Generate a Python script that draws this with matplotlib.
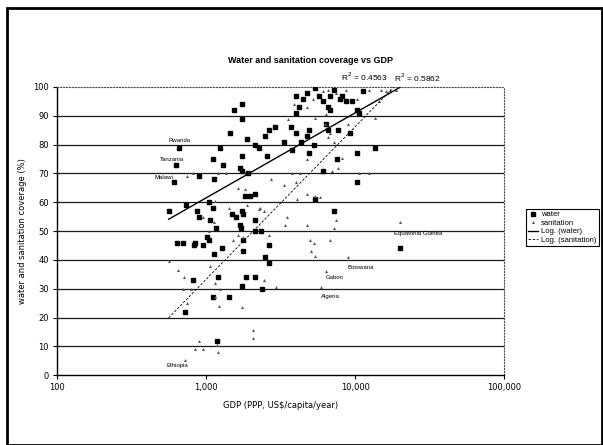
import numpy as np
import matplotlib
matplotlib.use('Agg')
import matplotlib.pyplot as plt
from matplotlib.patches import Rectangle
from matplotlib.ticker import FixedLocator, NullLocator

# water coverage (%) vs GDP (PPP, US$/capita/year)
water_gdp = [1538, 1730, 1752, 1448, 1893, 1247, 659, 1106, 1300, 628, 898, 1127, 610,
             1730, 1679, 1730, 1927, 2133, 2264, 2582, 2475, 2630, 2924, 3715, 3990,
             3336, 3758, 4365, 3990, 4036, 4498, 4236, 4775, 4920, 5312, 4920, 5383,
             5702, 6053, 6622, 6823, 6353, 6622, 7691, 7244, 8166, 8670, 9485, 10370,
             10670, 11320, 13550, 6823, 7925, 4775,
             561, 729, 872, 898, 1042, 1106, 1061, 1175, 1012, 1042, 846, 836, 635, 699,
             953, 1127, 1285, 1492, 1583, 1730, 1783, 1837, 1986, 2133, 1679, 1710,
             2133, 2133, 2333, 2630, 2475, 2630, 1762, 1762, 1211, 1430, 1106, 822, 720,
             1858, 2133, 2361, 1189, 1752, 5383, 7244, 20000, 10370, 10370, 9311, 6053,
             7603]
water_cov = [92, 94, 89, 84, 82, 79, 79, 75, 73, 73, 69, 68, 67,
             76, 72, 71, 70, 80, 79, 76, 83, 85, 86, 86, 84,
             81, 78, 81, 91, 97, 96, 93, 83, 85, 80, 77, 99.5,
             97, 95, 93, 92, 87, 85, 85, 99, 97, 95, 95, 92,
             91, 98.6, 79, 97, 96, 98,
             57, 59, 57, 55, 60, 58, 54, 51, 48, 47, 46, 45, 46, 46,
             45, 42, 44, 56, 55, 57, 56, 62, 62, 63, 52, 51,
             54, 50, 50, 45, 41, 39, 47, 43, 34, 27, 27, 33, 22,
             34, 34, 30, 12, 31, 61, 57, 44, 77, 67, 84, 71,
             75]

# sanitation coverage (%)
san_gdp = [561, 647, 708, 699, 797, 751, 1061, 1140, 1225, 1247, 1140, 846, 953, 1211,
           720, 2070, 2070, 1730, 1783, 1518, 1630, 1430, 1893, 1837, 2305, 2447, 2630,
           2964, 2710, 3336, 3758, 3990, 4285, 4775, 3499, 3373, 4061, 4775, 5383, 5781,
           4775, 5003, 5312, 5070, 5383, 6823, 7031, 7691, 8166, 10670, 7464, 7244, 8933,
           6353, 5875, 20000, 12390, 6427, 6823, 6622, 7244, 5383, 6237, 8933, 6622,
           7464, 8670, 10370, 12390, 13550, 14380, 16210, 17210, 18830, 14820, 4775,
           3873, 5222, 6053, 3540, 1630, 1365, 1211, 822, 751, 1140, 953, 1042, 1127,
           2264, 2447, 898, 1189]
san_cov = [39.5, 36.5, 34, 30, 30, 25, 38, 32, 24, 30, 27, 9, 9, 8,
           5.4, 15.6, 13, 23.6, 48, 47, 48.5, 58, 59, 64.6, 58, 57, 48.5,
           30.5, 68, 66, 70, 67, 70, 75, 55, 52, 61, 63, 62, 61.7,
           52, 47, 46, 43, 41.5, 47, 71, 72, 75.5, 70, 54, 51, 41,
           36, 30.5, 53, 70, 90.5, 84, 82.5, 81, 89.4, 87, 87, 99,
           98, 99, 96, 99, 89.4, 95, 98.6, 99, 99, 99, 93,
           94, 96, 98.6, 89, 65, 70, 70, 70, 69, 60.5, 55, 50, 53,
           57.7, 33, 12, 10.4]

# logarithmic trendlines y = a*log10(x) + b
water_fit = (29.5, -27.0)
san_fit = (53.0, -125.8)
r2_labels = ['R$^2$ = 0.4563', 'R$^2$ = 0.5862']

countries = ['Rwanda', 'Tanzania', 'Malawi', 'Ethiopia', 'Equatorial Guinea',
             'Botswana', 'Gabon', 'Algeria']
country_x = [557, 494, 452, 541, 18200, 8900, 6330, 5890]
country_y = [81.5, 75, 68.6, 3.5, 49.3, 37.5, 34, 27.4]

fig = plt.figure(figsize=(6.03, 4.45), dpi=100)
ax = fig.add_axes([0.0945, 0.157, 0.7415, 0.6475])
plt.rcParams['font.family'] = ['Liberation Sans', 'DejaVu Sans']

ax.set_xscale('log')
ax.set_xlim(100, 100000)
ax.set_ylim(0, 100)

for yv in range(10, 100, 10):
    ax.axhline(yv, color='0.1', lw=0.9, zorder=1)

ax.plot(water_gdp, water_cov, 's', color='black', ms=2.6, zorder=3, label='water')
ax.plot(san_gdp, san_cov, '^', color='0.35', ms=2.2, mew=0, zorder=3, label='sanitation')

xw = np.logspace(np.log10(min(water_gdp)), np.log10(max(water_gdp)), 50)
ax.plot(xw, water_fit[0] * np.log10(xw) + water_fit[1], '-', color='black', lw=1.0,
        zorder=4, label='Log. (water)')
xs = np.logspace(np.log10(min(san_gdp)), np.log10(max(san_gdp)), 50)
ax.plot(xs, san_fit[0] * np.log10(xs) + san_fit[1], '--', color='black', lw=0.6,
        dashes=(3, 2), zorder=4, label='Log. (sanitation)')

ax.text(8000, 101.5, r2_labels[0], fontsize=6, va='bottom', ha='left', clip_on=False)
ax.text(18200, 101, r2_labels[1], fontsize=6, va='bottom', ha='left', clip_on=False)

for name, cx, cy in zip(countries, country_x, country_y):
    ax.text(cx, cy, name, fontsize=4.3, ha='left', va='center')

ax.xaxis.set_major_locator(FixedLocator([100, 1000, 10000, 100000]))
ax.xaxis.set_minor_locator(NullLocator())
ax.set_xticklabels(['100', '1,000', '10,000', '100,000'])
ax.set_yticks(range(0, 101, 10))
ax.tick_params(labelsize=6, length=3, width=0.8, direction='out', pad=3)

for side in ['top', 'right']:
    ax.spines[side].set_linestyle(':')
    ax.spines[side].set_color('0.3')
    ax.spines[side].set_linewidth(0.8)
ax.spines['left'].set_linewidth(1.0)
ax.spines['bottom'].set_linewidth(1.0)

ax.set_xlabel('GDP (PPP, US$/capita/year)', fontsize=6, labelpad=6)
ax.set_ylabel('water and sanitation coverage (%)', fontsize=6, labelpad=4)
fig.text(0.515, 0.865, 'Water and sanitation coverage vs GDP', fontsize=6.5,
         fontweight='bold', ha='center', va='center')

leg = ax.legend(loc='upper left', bbox_to_anchor=(0.872, 0.531),
                bbox_transform=fig.transFigure, fontsize=5.5, handlelength=1.3,
                borderpad=0.3, labelspacing=0.15, handletextpad=0.4,
                fancybox=False, framealpha=1, borderaxespad=0)
leg.get_frame().set_edgecolor('black')
leg.get_frame().set_linewidth(0.8)

fig.patches.append(Rectangle((0.012, 0.0), 0.986, 0.982, transform=fig.transFigure,
                             fill=False, edgecolor='black', lw=2.0))

fig.savefig('out.png', dpi=100)
